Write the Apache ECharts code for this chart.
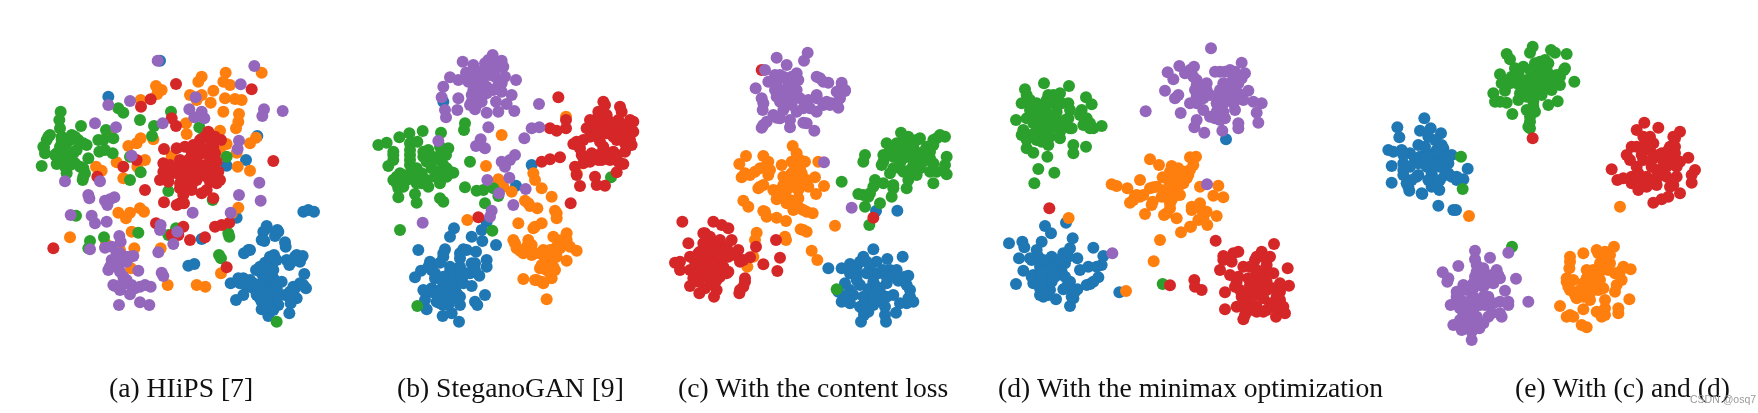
<!DOCTYPE html>
<html><head><meta charset="utf-8">
<style>html,body{margin:0;padding:0;background:#fff}#main{width:1758px;height:413px;filter:blur(0.65px)}</style>
<script src="https://cdn.jsdelivr.net/npm/echarts@6/dist/echarts.min.js"></script>
</head><body><div id="main"></div>
<script>
const captions=["(a) HIiPS [7]","(b) SteganoGAN [9]","(c) With the content loss","(d) With the minimax optimization","(e) With (c) and (d)"];
const watermark="CSDN @osq7";
const classNames=["class 0","class 1","class 2","class 3","class 4"];

const a_blue=[[850,515],[865,510],[882,515],[740,565],[730,575],[775,575],[765,588],[733,603],[795,607],[797,620],[685,630],[672,640],[762,645],[830,645],[848,648],[800,660],[840,665],[760,665],[735,668],[720,680],[808,675],[708,690],[853,702],[745,700],[670,715],[690,720],[730,720],[760,715],[785,725],[632,730],[660,730],[840,730],[858,745],[680,740],[700,745],[745,735],[770,745],[820,740],[670,765],[648,780],[710,765],[740,765],[795,765],[830,775],[725,785],[755,785],[775,795],[812,790],[725,808],[750,810],[808,820],[745,828],[505,677],[523,672],[545,597],[620,377],[678,360],[712,288],[650,533],[265,170],[420,62],[725,700],[750,725],[715,735],[735,750],[755,755],[725,755],[745,790],[760,810],[735,800],[700,730],[675,725],[655,715],[760,690],[770,660],[750,650],[815,665],[825,650],[740,715],[780,765],[810,755],[825,745],[850,735],[720,775],[745,770],[690,630],[740,558],[772,570],[725,600]];
const a_orange=[[617,98],[725,98],[545,110],[535,125],[610,125],[630,135],[408,138],[425,150],[412,162],[580,152],[510,165],[545,165],[362,180],[615,175],[645,177],[665,180],[572,188],[530,180],[610,215],[657,222],[655,245],[648,265],[600,272],[708,293],[690,310],[362,295],[350,310],[325,318],[400,298],[498,250],[500,282],[600,335],[620,312],[650,338],[455,348],[375,360],[290,367],[352,380],[228,380],[245,392],[310,415],[653,380],[690,392],[655,503],[635,520],[295,518],[330,518],[318,535],[360,505],[372,515],[335,575],[150,592],[343,625],[422,625],[300,630],[333,685],[603,700],[443,735],[530,735],[556,740],[268,280],[258,612]];
const a_green=[[122,215],[118,240],[120,265],[183,258],[90,285],[80,300],[72,322],[75,340],[125,290],[155,285],[175,300],[200,315],[120,320],[140,310],[170,330],[110,340],[130,345],[155,345],[205,355],[110,372],[135,365],[165,370],[65,378],[140,400],[190,385],[195,400],[188,420],[250,300],[235,300],[280,295],[258,270],[238,335],[255,330],[278,340],[295,205],[310,218],[360,240],[402,258],[396,288],[453,215],[538,262],[546,295],[620,350],[362,397],[330,420],[445,453],[578,480],[168,527],[210,603],[205,625],[252,592],[355,578],[445,585],[468,565],[625,580],[628,590],[597,645],[603,655],[770,845],[330,350],[530,335],[130,330],[145,335],[160,340],[140,350],[125,360],[150,360],[135,380],[150,375],[105,345],[125,300],[150,300],[165,290],[190,310],[85,290],[70,320],[180,380],[190,410]];
const a_red=[[468,132],[392,178],[363,200],[695,148],[455,235],[468,258],[432,327],[565,275],[585,290],[603,300],[575,300],[545,325],[570,320],[520,315],[495,320],[470,325],[760,363],[350,360],[310,380],[430,370],[450,375],[480,360],[515,345],[520,370],[570,350],[590,365],[440,395],[475,390],[510,395],[540,395],[575,395],[595,395],[420,420],[445,425],[500,430],[530,420],[570,425],[590,430],[480,445],[515,435],[545,460],[490,465],[580,475],[375,450],[432,487],[470,495],[492,490],[232,410],[408,550],[490,560],[455,585],[475,585],[510,600],[555,592],[585,560],[605,555],[628,548],[100,625],[620,682],[545,340],[440,380],[460,385],[430,395],[490,380],[505,360],[530,360],[555,375],[530,380],[500,410],[525,405],[560,410],[585,415],[600,420],[480,430],[500,450],[515,450],[470,400],[445,410],[560,340],[585,340],[555,290],[580,320],[540,300],[510,325],[560,450],[480,490],[575,375]];
const a_purple=[[413,62],[703,78],[662,133],[527,172],[330,183],[265,195],[508,208],[545,215],[523,232],[553,235],[732,208],[727,228],[788,213],[225,250],[288,262],[428,250],[657,302],[653,327],[335,347],[135,424],[240,424],[718,428],[657,465],[722,482],[205,465],[208,475],[283,472],[270,478],[255,482],[262,495],[152,525],[215,527],[225,550],[260,545],[518,518],[632,518],[422,555],[420,570],[472,575],[298,588],[302,605],[460,612],[210,628],[255,623],[275,620],[415,637],[340,648],[300,650],[275,660],[320,665],[265,690],[295,680],[310,710],[355,692],[425,698],[430,708],[285,738],[300,750],[320,730],[345,745],[375,735],[392,740],[330,763],[360,787],[388,795],[297,795],[290,640],[300,640],[285,665],[305,665],[290,655],[320,650],[270,680],[300,695],[320,720],[335,735],[310,725],[280,735],[360,740],[330,650]];

const b_blue=[[250,185],[515,375],[468,437],[380,545],[282,565],[270,590],[365,570],[335,590],[367,603],[408,615],[175,630],[255,628],[310,628],[348,635],[250,650],[300,655],[210,665],[240,668],[380,660],[335,670],[380,680],[183,692],[215,690],[295,685],[270,695],[165,712],[225,715],[260,715],[300,710],[330,700],[358,707],[290,720],[190,750],[215,745],[255,740],[285,745],[335,738],[195,780],[235,765],[270,770],[375,765],[345,785],[352,795],[200,808],[250,795],[300,795],[248,828],[275,820],[297,845],[300,770],[265,730],[275,710],[240,750],[225,760],[270,750],[290,760],[210,755],[255,770],[230,785],[300,680],[300,700],[270,680],[250,710],[245,720],[310,730],[320,700],[345,670],[345,690],[205,680],[225,700],[195,755],[240,790],[265,795],[285,775],[300,640],[320,630],[250,640]];
const b_orange=[[425,285],[378,378],[415,418],[430,440],[455,455],[520,400],[525,420],[545,445],[575,470],[495,482],[510,498],[532,505],[585,512],[590,535],[322,540],[475,550],[545,550],[520,565],[580,590],[620,580],[460,600],[505,600],[515,615],[470,625],[490,640],[515,645],[550,630],[610,610],[630,620],[650,632],[585,630],[555,655],[620,662],[590,650],[570,670],[540,685],[585,690],[490,717],[530,720],[575,715],[550,730],[560,778],[618,230],[650,400],[525,640],[540,640],[570,630],[590,620],[605,600],[560,645],[575,650],[600,625],[545,675],[560,690],[580,680],[525,720],[545,725],[500,620],[480,632],[465,610],[525,560],[590,520],[505,490],[620,600],[570,700]];
const b_green=[[148,280],[188,273],[243,278],[315,250],[312,270],[55,315],[80,308],[118,292],[150,310],[172,305],[205,330],[265,325],[100,345],[150,345],[190,350],[240,345],[258,345],[85,378],[150,375],[215,365],[330,365],[250,375],[110,410],[130,405],[185,400],[235,395],[280,398],[260,410],[110,430],[140,420],[170,430],[205,440],[240,430],[115,472],[165,462],[170,488],[240,475],[250,485],[315,442],[350,452],[370,450],[400,445],[415,468],[375,490],[397,572],[120,570],[172,798],[753,412],[120,400],[100,420],[125,425],[150,405],[175,415],[200,420],[225,410],[250,400],[270,395],[150,330],[150,360],[190,335],[210,345],[240,360],[260,385],[130,440],[115,445],[185,430],[215,385],[170,385],[100,360],[100,335],[200,365],[240,320]];
const b_red=[[595,172],[730,185],[780,200],[715,215],[618,240],[618,265],[570,265],[590,272],[690,240],[740,225],[775,240],[810,240],[760,260],[710,260],[690,290],[740,280],[820,275],[790,280],[650,305],[720,305],[770,300],[815,315],[640,312],[665,345],[730,330],[760,335],[795,335],[545,365],[570,358],[600,352],[675,360],[715,360],[750,360],[790,372],[645,380],[650,405],[770,397],[705,410],[710,435],[735,437],[660,438],[632,490],[355,532],[700,245],[730,240],[750,245],[700,270],[725,265],[750,275],[770,270],[800,265],[780,250],[760,290],[710,290],[680,265],[670,300],[655,315],[730,320],[745,340],[715,345],[690,365],[670,370],[750,355],[775,365],[820,245],[810,300],[795,310],[660,325],[735,195],[785,215],[715,230],[770,345],[695,340],[725,360]];
const b_purple=[[398,45],[425,62],[308,65],[340,75],[375,70],[430,80],[318,98],[355,95],[395,90],[270,112],[295,120],[325,125],[365,120],[435,110],[468,120],[250,140],[380,140],[415,135],[245,172],[295,175],[345,165],[425,155],[455,165],[335,185],[365,185],[408,185],[440,192],[255,210],[292,210],[345,208],[380,218],[415,215],[463,213],[258,232],[537,192],[385,262],[515,265],[538,262],[493,295],[235,303],[362,298],[348,318],[375,325],[465,345],[450,360],[425,365],[435,380],[382,420],[448,413],[497,447],[417,460],[460,495],[395,512],[390,530],[188,548],[375,85],[360,110],[350,130],[370,130],[390,105],[405,110],[340,150],[360,165],[380,160],[355,140],[335,165],[410,85],[385,60],[395,60],[320,115],[345,105],[420,120],[400,150],[425,130],[330,195],[350,195],[345,190]];

const c_blue=[[648,513],[712,512],[640,628],[728,650],[505,685],[545,685],[570,672],[610,650],[650,665],[682,657],[590,700],[630,680],[690,690],[745,707],[715,722],[555,730],[600,735],[640,725],[680,730],[740,735],[580,765],[625,755],[660,755],[700,765],[750,770],[545,785],[570,790],[620,790],[650,785],[740,790],[708,818],[612,825],[675,825],[603,845],[678,845],[535,755],[620,700],[640,705],[630,745],[610,770],[650,740],[640,770],[655,700],[680,710],[700,710],[670,690],[590,680],[570,700],[620,665],[600,665],[660,770],[680,770],[720,790],[745,775],[750,750],[735,710],[560,770],[570,750],[600,800],[625,815],[590,720],[710,690],[610,810],[640,795],[675,800],[760,785]];
const c_orange=[[398,318],[258,348],[310,348],[410,340],[475,365],[238,372],[320,375],[365,375],[435,365],[245,412],[285,395],[325,405],[410,395],[465,412],[492,438],[300,440],[340,450],[370,435],[400,425],[440,435],[468,462],[350,478],[250,482],[265,500],[380,490],[415,475],[310,513],[400,510],[430,510],[458,520],[320,530],[350,533],[378,543],[525,557],[422,568],[440,575],[290,578],[285,600],[375,590],[378,600],[455,632],[472,660],[280,650],[262,680],[395,400],[410,410],[425,420],[400,440],[380,450],[360,450],[350,460],[420,385],[425,400],[440,420],[405,380],[420,360],[395,365],[390,480],[405,495],[420,505],[400,500],[440,515],[415,450],[300,385],[330,390],[255,400],[270,405],[295,445],[310,435],[370,410],[380,420],[325,365],[315,515],[430,570],[360,470],[445,440]];
const c_green=[[723,278],[840,285],[855,290],[820,300],[680,310],[710,310],[770,300],[740,320],[615,345],[610,365],[860,350],[670,345],[700,350],[770,340],[810,335],[665,375],[720,370],[760,375],[820,370],[855,375],[690,400],[730,395],[770,405],[810,395],[860,403],[645,420],[670,430],[545,425],[700,435],[740,445],[820,430],[595,462],[630,460],[695,470],[615,500],[660,490],[628,555],[530,748],[730,300],[745,330],[760,320],[730,335],[750,350],[730,355],[720,335],[700,330],[690,345],[760,355],[780,350],[790,365],[780,385],[750,390],[720,385],[700,385],[780,295],[820,315],[800,320],[790,335],[830,295],[810,355],[830,395],[745,290],[690,330],[670,365],[640,440],[625,470],[610,465],[700,445],[745,420]];
const c_red=[[305,90],[67,545],[160,545],[185,555],[205,565],[135,580],[215,600],[85,610],[150,610],[288,620],[348,600],[120,635],[235,630],[180,630],[90,650],[160,650],[205,650],[270,652],[360,653],[45,668],[120,665],[180,670],[240,665],[60,690],[130,690],[205,695],[310,673],[352,693],[100,715],[150,720],[180,710],[255,715],[90,738],[135,745],[170,750],[250,740],[118,760],[162,770],[238,760],[640,533],[130,580],[150,590],[180,600],[170,620],[200,620],[130,610],[115,640],[140,650],[130,670],[150,680],[110,690],[90,690],[170,695],[190,680],[130,710],[115,725],[145,700],[160,735],[170,720],[200,700],[215,640],[225,645],[250,660],[60,665],[150,635],[105,665],[180,650],[240,750],[255,725]];
const c_purple=[[443,38],[350,53],[432,62],[380,75],[315,90],[360,105],[410,100],[325,125],[385,130],[480,115],[505,128],[545,128],[287,145],[360,150],[410,150],[470,165],[555,153],[540,175],[310,190],[360,185],[440,190],[490,195],[515,190],[535,203],[308,210],[370,210],[410,215],[470,215],[350,233],[320,245],[430,248],[305,263],[390,262],[463,272],[492,367],[575,503],[350,130],[370,110],[395,110],[415,120],[345,150],[375,160],[395,145],[380,170],[350,170],[400,170],[420,175],[395,195],[370,190],[430,205],[450,205],[490,125],[470,110],[545,140],[555,150],[530,155],[510,195],[500,185],[445,180],[470,175],[530,190],[345,105],[305,175],[390,240],[440,250],[340,225],[360,235],[310,255]];

const d_blue=[[708,298],[228,548],[165,558],[183,580],[57,610],[97,605],[155,605],[248,595],[103,622],[140,630],[310,623],[220,640],[87,655],[125,660],[185,650],[262,655],[340,648],[150,680],[225,670],[100,692],[270,690],[295,680],[335,675],[130,705],[175,700],[215,695],[325,712],[78,732],[130,730],[165,730],[240,725],[300,732],[220,748],[262,748],[150,765],[180,750],[198,778],[250,775],[240,798],[388,757],[190,660],[200,670],[175,670],[160,660],[165,690],[205,660],[220,655],[235,650],[240,625],[145,710],[125,710],[150,725],[185,725],[225,710],[230,740],[150,745],[175,765],[160,770],[145,650],[120,655],[155,695],[195,710],[185,685],[245,770],[255,755],[320,680],[290,735],[310,725]];
const d_orange=[[600,352],[618,350],[480,358],[507,375],[545,378],[610,375],[570,395],[595,405],[450,420],[518,412],[365,433],[380,438],[412,445],[490,442],[545,440],[580,430],[630,440],[685,437],[435,467],[460,465],[525,470],[570,465],[670,467],[700,472],[420,488],[488,485],[540,505],[605,500],[630,490],[650,515],[465,522],[522,525],[560,535],[680,528],[625,540],[652,555],[603,560],[573,577],[510,600],[491,664],[408,753],[236,534],[565,385],[585,395],[555,405],[575,415],[590,415],[540,395],[560,420],[565,440],[540,455],[525,450],[515,470],[570,430],[535,420],[600,390],[440,465],[450,470],[500,440],[480,445],[430,480],[485,495],[540,490],[545,480],[560,465],[600,560],[640,535],[530,520],[605,510],[635,510]];
const d_green=[[162,130],[237,138],[105,148],[110,165],[175,165],[210,160],[288,172],[95,190],[135,195],[235,190],[305,193],[120,210],[165,205],[275,210],[78,240],[110,235],[150,235],[195,235],[235,235],[285,240],[310,265],[335,258],[100,270],[140,270],[180,265],[240,265],[95,285],[140,300],[210,295],[175,315],[250,315],[288,320],[110,325],[130,338],[172,350],[250,340],[145,387],[193,398],[133,430],[518,732],[170,180],[190,165],[190,190],[150,210],[130,220],[170,220],[200,215],[150,250],[170,250],[130,250],[220,245],[200,250],[160,280],[120,285],[180,290],[210,275],[140,190],[120,180],[215,190],[290,235],[300,250],[280,255],[300,265],[270,225],[240,210],[225,240],[110,300],[155,305],[160,270],[245,265]];
const d_red=[[178,505],[677,602],[852,612],[745,635],[815,635],[700,648],[795,660],[690,690],[725,665],[780,680],[830,675],[893,685],[745,710],[800,700],[850,700],[613,720],[615,740],[635,750],[540,736],[705,757],[735,740],[780,735],[820,720],[870,730],[897,737],[755,770],[800,765],[860,770],[705,808],[740,800],[800,800],[840,790],[880,800],[765,825],[820,815],[858,830],[885,820],[760,838],[800,690],[820,650],[800,650],[840,650],[760,680],[820,700],[770,760],[800,745],[830,750],[850,745],[870,755],[780,785],[820,775],[855,800],[760,800],[830,810],[800,815],[780,810],[740,725],[750,750],[870,780],[870,800],[720,705],[700,660],[730,640],[800,730],[830,725],[775,715]];
const d_purple=[[663,25],[755,68],[568,78],[612,80],[533,97],[675,95],[720,90],[765,100],[550,118],[620,120],[755,115],[650,130],[720,130],[525,152],[565,165],[555,175],[630,160],[775,152],[700,170],[745,160],[620,190],[680,190],[790,185],[815,190],[467,214],[640,210],[572,219],[735,210],[800,218],[675,235],[705,235],[805,248],[620,240],[613,262],[745,250],[745,265],[643,278],[697,272],[367,640],[651,433],[620,135],[630,150],[650,150],[620,170],[640,175],[660,165],[710,150],[700,130],[730,115],[720,150],[690,150],[680,170],[715,170],[700,190],[735,180],[745,130],[760,180],[610,110],[585,100],[600,90],[690,95],[705,95],[735,95],[600,190],[615,150],[680,215],[700,215],[730,190],[660,230],[690,240]];

const e_blue=[[193,265],[112,292],[118,322],[180,302],[212,295],[243,310],[175,345],[225,330],[85,360],[125,360],[250,355],[150,370],[200,370],[275,375],[95,408],[130,400],[175,400],[230,390],[265,400],[323,416],[130,435],[175,435],[215,430],[255,435],[290,450],[310,448],[95,458],[145,470],[215,465],[238,480],[148,482],[187,492],[235,527],[280,540],[288,540],[190,395],[200,410],[210,385],[220,405],[235,370],[250,375],[180,380],[165,390],[150,410],[130,420],[240,410],[225,450],[240,450],[205,450],[195,350],[205,320],[230,360],[170,440],[155,450],[265,430],[275,440],[140,460],[130,375],[100,365],[265,380],[215,470],[185,490],[245,345],[255,390],[290,440]];
const e_orange=[[327,558],[780,530],[762,650],[670,670],[630,680],[715,670],[750,675],[628,715],[680,720],[725,695],[790,710],[812,718],[745,720],[620,755],[670,760],[720,750],[785,750],[630,780],[690,790],[730,775],[765,785],[808,808],[650,805],[735,810],[600,828],[670,838],[710,845],[735,855],[775,835],[775,850],[630,855],[665,885],[680,892],[720,700],[740,690],[735,665],[700,720],[720,720],[700,740],[680,745],[700,760],[680,770],[660,780],[670,800],[690,810],[720,725],[750,700],[765,730],[780,725],[770,765],[715,780],[640,750],[625,770],[645,795],[620,745],[735,835],[725,860],[630,695],[620,860],[640,860],[690,780],[710,660]];
const e_green=[[518,50],[510,68],[573,60],[585,68],[620,72],[440,72],[450,88],[540,95],[490,110],[565,100],[612,120],[420,133],[475,130],[530,130],[590,135],[643,155],[450,160],[500,160],[550,160],[600,165],[435,182],[400,190],[480,190],[535,190],[575,180],[405,215],[440,218],[475,210],[520,215],[593,214],[565,225],[500,240],[525,245],[457,252],[510,275],[510,295],[303,380],[308,477],[456,650],[510,120],[540,110],[560,120],[570,135],[510,145],[530,150],[555,145],[480,145],[470,160],[490,175],[515,180],[540,175],[560,170],[590,150],[525,100],[555,90],[575,150],[515,200],[520,230],[500,200],[545,195],[455,140],[425,160],[600,140],[445,150],[615,115],[465,115],[505,290],[510,260],[420,215]];
const e_red=[[518,325],[853,278],[895,293],[830,300],[960,305],[945,325],[855,330],[815,350],[880,340],[930,350],[800,375],[845,375],[895,375],[945,370],[985,383],[830,410],[875,410],[920,410],[950,410],[755,418],[1005,420],[772,450],[815,440],[860,440],[905,430],[995,435],[995,458],[835,480],[890,465],[940,465],[960,490],[925,500],[905,508],[880,518],[850,355],[870,360],[850,390],[880,385],[905,370],[920,385],[925,360],[870,320],[850,320],[830,350],[810,390],[910,395],[935,395],[890,420],[835,430],[815,460],[845,450],[890,445],[920,440],[950,440],[930,470],[880,460],[860,470],[945,350],[960,395],[790,445],[940,320]];
const e_purple=[[345,662],[445,668],[390,683],[345,688],[295,708],[248,727],[265,745],[262,755],[345,740],[395,735],[420,745],[468,746],[310,765],[370,770],[435,782],[290,800],[340,800],[385,800],[505,815],[272,825],[320,830],[375,825],[445,825],[425,860],[310,855],[350,860],[385,860],[295,885],[335,880],[305,900],[358,895],[335,930],[350,705],[350,725],[340,760],[320,780],[300,785],[340,775],[370,745],[380,760],[400,760],[415,735],[340,820],[325,815],[340,840],[325,860],[360,825],[370,800],[400,820],[420,815],[445,815],[300,835],[285,820],[300,870],[320,880],[345,885],[370,880],[395,850],[420,850],[370,715],[410,720],[290,785],[310,815],[335,905],[280,885]];

const panelData=[
 [a_blue,a_orange,a_green,a_red,a_purple],
 [b_blue,b_orange,b_green,b_red,b_purple],
 [c_blue,c_orange,c_green,c_red,c_purple],
 [d_blue,d_orange,d_green,d_red,d_purple],
 [e_blue,e_orange,e_green,e_red,e_purple]
];
const rects=[{l:20,t:40,w:320,h:300},{l:360,t:40,w:290,h:300},{l:660,t:40,w:310,h:300},{l:990,t:40,w:320,h:300},{l:1360,t:30,w:340,h:320}];
const colors=['#1f77b4','#ff7f0e','#2ca02c','#d62728','#9467bd'];
const captionX=[109,397,678,998,1515];

const grid=[],xAxis=[],yAxis=[],series=[];
rects.forEach((r,i)=>{
  grid.push({left:r.l,top:r.t,width:r.w,height:r.h});
  xAxis.push({type:'value',gridIndex:i,min:0,max:r.w*3,show:false});
  yAxis.push({type:'value',gridIndex:i,min:0,max:r.h*3,inverse:true,show:false});
  panelData[i].forEach((pts,k)=>series.push({
    name:classNames[k],type:'scatter',xAxisIndex:i,yAxisIndex:i,data:pts,
    symbol:'circle',symbolSize:12,silent:true,
    itemStyle:{color:colors[k],opacity:1}
  }));
});
const title=captions.map((t,i)=>({text:t,left:captionX[i],top:376,padding:0,
  textStyle:{fontFamily:'"Liberation Serif"',fontSize:27.6,fontWeight:'normal',color:'#111'}}));
title.push({text:watermark,left:1690,top:395,padding:0,textStyle:{fontFamily:'"Liberation Sans"',fontSize:10.5,fontWeight:'normal',color:'#9a9a9a'}});

const chart=echarts.init(document.getElementById('main'),null,{renderer:'canvas'});
chart.setOption({animation:false,backgroundColor:'#fff',legend:{show:false},tooltip:{show:false},title,grid,xAxis,yAxis,series});
</script></body></html>
